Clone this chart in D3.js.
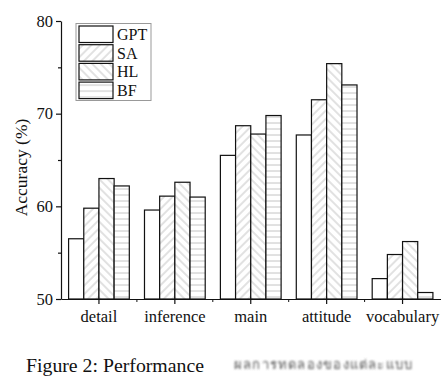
<!DOCTYPE html>
<html>
<head>
<meta charset="utf-8">
<script src="https://cdn.jsdelivr.net/npm/d3@7"></script>
<style>
	body { margin: 0; background: #fff; }
	svg { display: block; font-family: 'Liberation Serif', 'Times New Roman', serif; }
</style>
</head>
<body>
<div id="chart"></div>
<script>
var categories = ['detail', 'inference', 'main', 'attitude', 'vocabulary'];
var seriesNames = ['GPT', 'SA', 'HL', 'BF'];
var gptValues = [56.5, 59.6, 65.5, 67.7, 52.2];
var saValues = [59.8, 61.1, 68.7, 71.5, 54.8];
var hlValues = [63.0, 62.6, 67.8, 75.4, 56.2];
var bfValues = [62.2, 61.0, 69.8, 73.1, 50.7];
var yTicks = [50, 60, 70, 80];
var yMinorTicks = [55, 65, 75];
var captionText = 'Figure 2: Performance';
var blurredText = 'ผลการทดลองของแต่ละแบบ';

var seriesValues = [gptValues, saValues, hlValues, bfValues];

var width = 448, height = 389;
var margin = { left: 61, right: 7, top: 21, bottom: 90 };

var svg = d3.select('#chart').append('svg')
	.attr('width', width)
	.attr('height', height);

// Patterns
var defs = svg.append('defs');
function addPattern(id, angle) {
	var p = defs.append('pattern')
		.attr('id', id)
		.attr('patternUnits', 'userSpaceOnUse')
		.attr('width', 6)
		.attr('height', 6)
		.attr('patternTransform', 'rotate(' + angle + ')');
	p.append('rect').attr('width', 6).attr('height', 6).attr('fill', '#fff');
	p.append('line')
		.attr('x1', 0).attr('y1', 3).attr('x2', 6).attr('y2', 3)
		.attr('stroke', '#bdbdbd')
		.attr('stroke-width', 0.9);
}
addPattern('pat-sa', -45);
addPattern('pat-hl', 45);
addPattern('pat-bf', 0);
var blur = defs.append('filter').attr('id', 'blur');
blur.append('feGaussianBlur').attr('stdDeviation', 0.9);

var fills = ['#fff', 'url(#pat-sa)', 'url(#pat-hl)', 'url(#pat-bf)'];

var x0 = d3.scaleBand()
	.domain(categories)
	.range([margin.left, width - margin.right - 0.5])
	.paddingInner(0.2)
	.paddingOuter(0.1);

var x1 = d3.scaleBand()
	.domain(seriesNames)
	.range([0, x0.bandwidth()]);

var y = d3.scaleLinear()
	.domain([50, 80])
	.range([299, 21]);

// Bars
var groups = svg.append('g').selectAll('g')
	.data(categories)
	.join('g')
	.attr('transform', function(d) { return 'translate(' + x0(d) + ',0)'; });

groups.selectAll('rect')
	.data(function(d, i) {
		return seriesNames.map(function(s, j) { return { s: s, j: j, v: seriesValues[j][i] }; });
	})
	.join('rect')
	.attr('x', function(d) { return x1(d.s); })
	.attr('y', function(d) { return y(d.v); })
	.attr('width', x1.bandwidth())
	.attr('height', function(d) { return y(50) - y(d.v); })
	.attr('fill', function(d) { return fills[d.j]; })
	.attr('stroke', '#111')
	.attr('stroke-width', 1.2);

// Y axis
var yAxis = svg.append('g')
	.attr('transform', 'translate(' + margin.left + ',0)')
	.call(d3.axisLeft(y).tickValues(yTicks).tickSize(5).tickSizeOuter(0).tickPadding(3));
svg.append('g')
	.attr('transform', 'translate(' + margin.left + ',0)')
	.call(d3.axisLeft(y).tickValues(yMinorTicks).tickSize(3).tickSizeOuter(0).tickFormat(''))
	.select('.domain').remove();
yAxis.selectAll('text')
	.attr('font-family', 'Liberation Serif, serif')
	.attr('font-size', 16.5)
	.attr('fill', '#111');

// X axis
var xAxis = svg.append('g')
	.attr('transform', 'translate(0,' + y(50) + ')')
	.call(d3.axisBottom(x0).tickSize(5).tickSizeOuter(0).tickPadding(6));
xAxis.selectAll('text')
	.attr('font-family', 'Liberation Serif, serif')
	.attr('font-size', 16.5)
	.attr('fill', '#111');
svg.append('g')
	.selectAll('line')
	.data(categories.slice(1))
	.join('line')
	.attr('x1', function(d) { return x0(d) - x0.step() * x0.paddingInner() / 2; })
	.attr('x2', function(d) { return x0(d) - x0.step() * x0.paddingInner() / 2; })
	.attr('y1', y(50))
	.attr('y2', y(50) + 3)
	.attr('stroke', '#111');

svg.selectAll('.domain, .tick line')
	.attr('stroke', '#111')
	.attr('stroke-width', 1.2);

// Y label
svg.append('text')
	.attr('transform', 'translate(27,167.5) rotate(-90)')
	.attr('text-anchor', 'middle')
	.attr('font-size', 17.5)
	.attr('fill', '#111')
	.text('Accuracy (%)');

// Legend
var legend = svg.append('g').attr('transform', 'translate(76,23.5)');
legend.append('rect')
	.attr('width', 75)
	.attr('height', 77)
	.attr('fill', '#fff')
	.attr('stroke', '#999')
	.attr('stroke-width', 1);
var items = legend.selectAll('g.item')
	.data(seriesNames)
	.join('g')
	.attr('class', 'item')
	.attr('transform', function(d, i) { return 'translate(3,' + (2.5 + i * 18.7) + ')'; });
items.append('rect')
	.attr('width', 34)
	.attr('height', 16.5)
	.attr('fill', function(d, i) { return fills[i]; })
	.attr('stroke', '#111')
	.attr('stroke-width', 1.2);
items.append('text')
	.attr('x', 38)
	.attr('y', 14)
	.attr('font-size', 16)
	.attr('fill', '#111')
	.text(function(d) { return d; });

// Caption
svg.append('text')
	.attr('x', 26)
	.attr('y', 372)
	.attr('font-size', 19.8)
	.attr('fill', '#111')
	.text(captionText);
svg.append('text')
	.attr('x', 234)
	.attr('y', 369)
	.attr('font-family', 'DejaVu Serif, serif')
	.attr('font-size', 13)
	.attr('textLength', 178)
	.attr('fill', '#555')
	.attr('filter', 'url(#blur)')
	.text(blurredText);
</script>
</body>
</html>
